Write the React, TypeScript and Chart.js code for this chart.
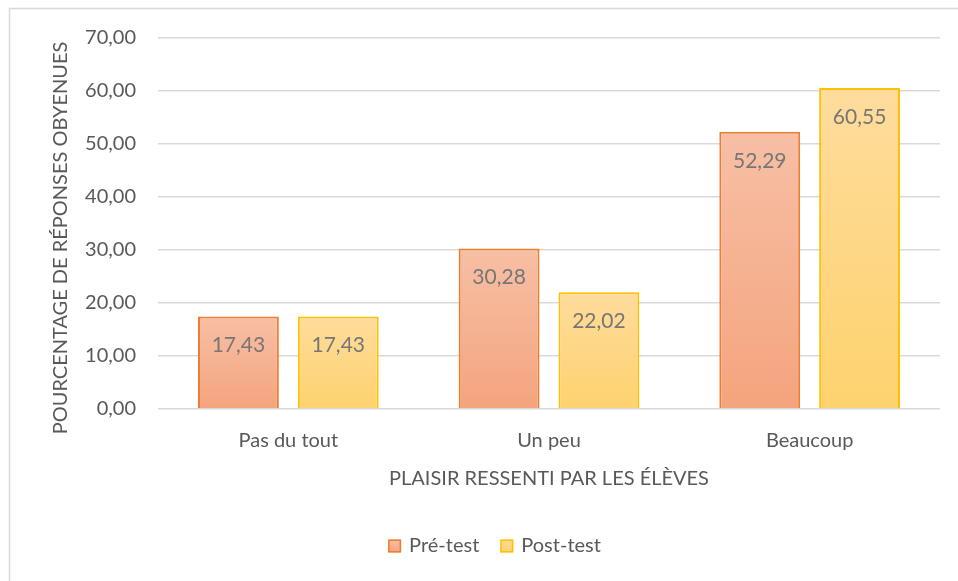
import React, { useEffect, useRef } from "react";
import { Chart, registerables } from "chart.js";

Chart.register(...registerables);

const categories = ["Pas du tout", "Un peu", "Beaucoup"];
const preTest = [17.43, 30.28, 52.29];
const postTest = [17.43, 22.02, 60.55];
const seriesNames = ["Pré-test", "Post-test"];
const yTicks = [0, 10, 20, 30, 40, 50, 60, 70];
const xTitle = "PLAISIR RESSENTI PAR LES ÉLÈVES";
const yTitle = "POURCENTAGE DE RÉPONSES OBYENUES";

const FONT = "Lato, 'Open Sans', sans-serif";
const fmt = (v: number) => v.toFixed(2).replace(".", ",");

const palette = [
  { top: "#F7BFA5", bottom: "#F4A47D", border: "#ED7D31" },
  { top: "#FEDC9C", bottom: "#FED26E", border: "#FFC000" },
];

function gradientFor(idx: number) {
  return (c: any) => {
    const chart = c.chart;
    const p = palette[idx];
    if (!chart.chartArea || c.type !== "data" || !chart.scales.y) return p.top;
    const ys = chart.scales.y;
    const top = ys.getPixelForValue(c.raw);
    const bottom = ys.getPixelForValue(0);
    const g = chart.ctx.createLinearGradient(0, top, 0, bottom);
    g.addColorStop(0, p.top);
    g.addColorStop(1, p.bottom);
    return g;
  };
}

const decorPlugin = {
  id: "decor",
  beforeDraw(chart: any) {
    const ctx = chart.ctx;
    ctx.save();
    ctx.fillStyle = "#ffffff";
    ctx.fillRect(0, 0, chart.width, chart.height);
    ctx.strokeStyle = "#d9d9d9";
    ctx.lineWidth = 1.5;
    ctx.strokeRect(9.5, 8.5, 2000, 2000);
    ctx.restore();
  },
  afterDraw(chart: any) {
    const ctx = chart.ctx;
    const area = chart.chartArea;
    ctx.save();
    // data labels
    ctx.font = `21px ${FONT}`;
    ctx.fillStyle = "#767676";
    ctx.textAlign = "center";
    ctx.textBaseline = "middle";
    chart.data.datasets.forEach((ds: any, di: number) => {
      const meta = chart.getDatasetMeta(di);
      meta.data.forEach((el: any, i: number) => {
        ctx.fillText(fmt(ds.data[i]), el.x, el.y + 29);
      });
    });
    // x title
    ctx.fillStyle = "#595959";
    ctx.font = `20px ${FONT}`;
    ctx.fillText(xTitle, (area.left + area.right) / 2, 479);
    // y title
    ctx.save();
    ctx.translate(61, 238);
    ctx.rotate(-Math.PI / 2);
    ctx.fillText(yTitle, 0, 0);
    ctx.restore();
    // legend
    ctx.font = `20px ${FONT}`;
    const box = 13;
    const gapBoxText = 8;
    const gapItems = 21;
    const widths = chart.data.datasets.map((ds: any) => ctx.measureText(ds.label).width);
    const total =
      widths.reduce((a: number, w: number) => a + box + gapBoxText + w, 0) +
      gapItems * (widths.length - 1);
    let x = 494.5 - total / 2;
    const cy = 546;
    chart.data.datasets.forEach((ds: any, di: number) => {
      const p = palette[di];
      const g = ctx.createLinearGradient(0, cy - box / 2, 0, cy + box / 2);
      g.addColorStop(0, p.top);
      g.addColorStop(1, p.bottom);
      ctx.fillStyle = g;
      ctx.fillRect(x, cy - box / 2, box, box);
      ctx.strokeStyle = p.border;
      ctx.lineWidth = 1.5;
      ctx.strokeRect(x + 0.75, cy - box / 2 + 0.75, box - 1.5, box - 1.5);
      ctx.fillStyle = "#595959";
      ctx.textAlign = "left";
      ctx.fillText(ds.label, x + box + gapBoxText, cy);
      x += box + gapBoxText + widths[di] + gapItems;
    });
    ctx.restore();
  },
};

export default function App() {
  const ref = useRef<HTMLCanvasElement>(null);
  useEffect(() => {
    if (!ref.current) return;
    const chart = new Chart(ref.current, {
      type: "bar",
      data: {
        labels: categories,
        datasets: [
          {
            label: seriesNames[0],
            data: preTest,
            backgroundColor: gradientFor(0),
            borderColor: palette[0].border,
            borderWidth: 2,
            barPercentage: 0.81,
            categoryPercentage: 0.766,
          },
          {
            label: seriesNames[1],
            data: postTest,
            backgroundColor: gradientFor(1),
            borderColor: palette[1].border,
            borderWidth: 2,
            barPercentage: 0.81,
            categoryPercentage: 0.766,
          },
        ],
      },
      options: {
        responsive: false,
        animation: false,
        devicePixelRatio: 1,
        layout: { padding: { left: 0, right: 18, top: 38, bottom: 0 } },
        plugins: { legend: { display: false }, tooltip: { enabled: false } },
        scales: {
          x: {
            grid: { display: false },
            border: { display: false },
            ticks: {
              color: "#595959",
              font: { family: FONT, size: 20 },
              padding: 12,
            },
            afterFit: (s: any) => {
              s.height = 172;
            },
          },
          y: {
            min: 0,
            max: 70,
            afterBuildTicks: (s: any) => {
              s.ticks = yTicks.map((v) => ({ value: v }));
            },
            grid: { color: "#d9d9d9", lineWidth: 1.5, drawTicks: false },
            border: { display: false },
            ticks: {
              color: "#595959",
              font: { family: FONT, size: 20 },
              padding: 22,
              callback: (v: any) => fmt(Number(v)),
            },
            afterFit: (s: any) => {
              s.width = 158;
            },
          },
        },
      },
      plugins: [decorPlugin],
    });
    return () => chart.destroy();
  }, []);
  return (
    <div style={{ position: "fixed", left: 0, top: 0, width: 958, height: 581, background: "#fff" }}>
      <canvas ref={ref} width={958} height={581} style={{ display: "block" }} />
    </div>
  );
}
